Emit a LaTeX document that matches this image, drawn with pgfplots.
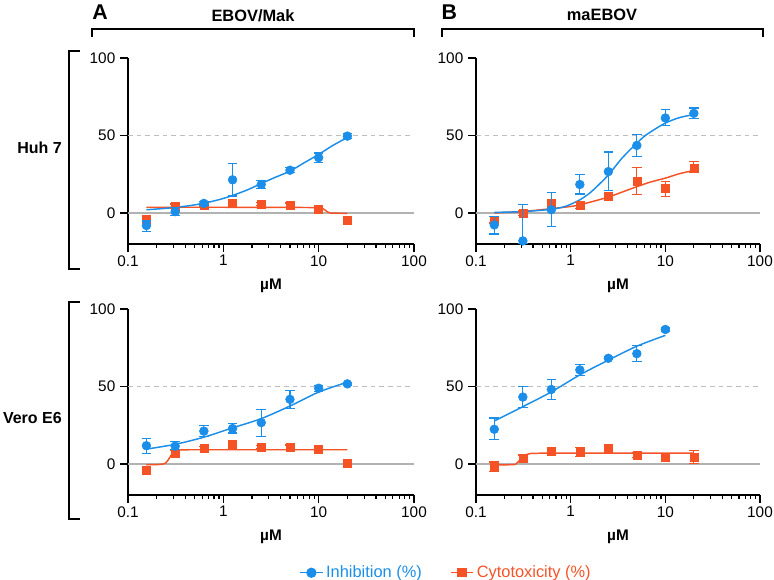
\documentclass[border=0pt]{standalone}
\usepackage{fontspec}
\setmainfont{Liberation Sans}
\usepackage{pgfplots}
\pgfplotsset{compat=1.18}
\definecolor{cblue}{RGB}{26,142,232}
\definecolor{cred}{RGB}{245,82,38}
\definecolor{zgray}{RGB}{178,178,178}
\definecolor{dgray}{RGB}{190,190,190}
\pgfplotsset{
  panel/.style={
    scale only axis, width=214.5pt, height=139.5pt,
    xmin=0.1, xmax=100, ymin=-20, ymax=100,
    axis lines=left, axis line style={-, line width=1.1pt, black},
    xtick={0.1,1,10,100},
    xticklabels={0.1,1,10,100},
    minor xtick={0.2,0.3,0.4,0.5,0.6,0.7,0.8,0.9,2,3,4,5,6,7,8,9,20,30,40,50,60,70,80,90},
    ytick={0,50,100},
    tick align=outside, major tick length=6pt, minor tick length=3pt,
    every tick/.style={black, line width=0.9pt},
    tick label style={font=\fontsize{11.5}{13}\selectfont},
    xticklabel style={yshift=1pt},
    /pgf/number format/assume math mode=true,
    xlabel={µM},
    xlabel style={font=\bfseries\fontsize{11.5}{13}\selectfont, at={(axis description cs:0.5,-0.225)}, anchor=center},
    clip mode=individual,
  },
  bpts/.style={forget plot, only marks, color=cblue, mark=*, mark size=3.3pt,
    error bars/y dir=both, error bars/y explicit,
    error bars/error bar style={line width=0.9pt, cblue},
    error bars/error mark options={line width=0.9pt, cblue, mark size=3.6pt, rotate=90}},
  rpts/.style={forget plot, only marks, color=cred, mark=square*, mark size=3pt,
    error bars/y dir=both, error bars/y explicit,
    error bars/error bar style={line width=0.9pt, cred},
    error bars/error mark options={line width=0.9pt, cred, mark size=3.6pt, rotate=90}},
  bcurve/.style={forget plot, cblue, line width=1.1pt, no marks, smooth},
  rcurve/.style={forget plot, cred, line width=1.1pt, no marks, smooth},
  rstep/.style={forget plot, cred, line width=1.1pt, no marks},
}
\newcommand{\reflines}{%
  \addplot[forget plot, zgray, line width=0.8pt] coordinates {(0.1,0) (100,0)};
  \addplot[forget plot, dgray, line width=0.8pt, dash pattern=on 3.5pt off 3pt] coordinates {(0.1,50) (100,50)};
}
\begin{document}
\begin{tikzpicture}
\path[use as bounding box] (0,0) rectangle (580.5pt,-435pt);
% headers
\node[font=\bfseries\fontsize{16}{18}\selectfont] at (75pt,-9pt) {A};
\node[font=\bfseries\fontsize{12.3}{14}\selectfont] at (189.75pt,-11.5pt) {EBOV/Mak};
\node[font=\bfseries\fontsize{16}{18}\selectfont] at (337pt,-9pt) {B};
\node[font=\bfseries\fontsize{12.3}{14}\selectfont] at (451.5pt,-11.5pt) {maEBOV};
\draw[line width=1.1pt] (69pt,-27.75pt) -- (69pt,-21.75pt) -- (310.5pt,-21.75pt) -- (310.5pt,-27.75pt);
\draw[line width=1.1pt] (331.5pt,-27.75pt) -- (331.5pt,-21.75pt) -- (572.25pt,-21.75pt) -- (572.25pt,-27.75pt);
\draw[line width=1.1pt] (60pt,-38.25pt) -- (51.75pt,-38.25pt) -- (51.75pt,-201.75pt) -- (60pt,-201.75pt);
\draw[line width=1.1pt] (60pt,-226.5pt) -- (51.75pt,-226.5pt) -- (51.75pt,-389.25pt) -- (60pt,-389.25pt);
\node[font=\bfseries\fontsize{12}{14}\selectfont, anchor=east, inner sep=0pt] at (46.5pt,-111pt) {Huh 7};
\node[font=\bfseries\fontsize{12}{14}\selectfont, anchor=east, inner sep=0pt] at (46.5pt,-313.5pt) {Vero E6};

% ---- top-left: EBOV/Mak, Huh 7
\begin{semilogxaxis}[panel, at={(96pt,-183pt)}, anchor=south west]
\reflines
\addplot[rstep] coordinates {(0.156,3.7) (1,3.7) (5,3.6) (10,3.5) (10.8,3.2) (11.5,2.2) (12.3,0.8) (13.2,0) (20,-0.3)};
\addplot[bcurve] coordinates {(0.156,2.1) (0.25,3) (0.3125,3.6) (0.45,4.8) (0.625,6.3) (0.9,8.6) (1.25,11.3) (1.8,15) (2.5,19) (3.5,23) (5,27) (7,32.3) (10,37.8) (14,43.5) (20,48.7)};
\addplot[rpts] table[x=x,y=y,y error plus=ep,y error minus=em] {
x y ep em
0.156 -4.3 2.5 2.5
0.3125 4.3 1.5 1.5
0.625 5 1 1
1.25 6.2 1.5 1.5
2.5 5.8 1 1
5 4.9 1.5 1.5
10 2.6 1 1
20 -4.5 1.5 1.5
};
\addplot[bpts] table[x=x,y=y,y error plus=ep,y error minus=em] {
x y ep em
0.156 -8.1 3 4
0.3125 0.9 2.5 2.5
0.625 6.2 1 1
1.25 21.4 10.4 10.4
2.5 18.4 2.5 2.5
5 27.6 1.5 1.5
10 35.7 3 3
20 49.6 1.5 1.5
};
\end{semilogxaxis}

% ---- top-right: maEBOV, Huh 7
\begin{semilogxaxis}[panel, width=213pt, at={(357pt,-183pt)}, anchor=south west]
\reflines
\addplot[rcurve] coordinates {(0.156,0) (0.3125,1) (0.625,2.8) (1,4.2) (1.25,5.3) (1.8,7.8) (2.5,10.3) (3.5,13.5) (5,17) (7,20) (10,22.5) (14,25.3) (20,27.5)};
\addplot[bcurve] coordinates {(0.156,0.4) (0.3125,0.9) (0.625,2.4) (0.9,4.5) (1.25,8.5) (1.6,13) (2,18.5) (2.5,24.5) (3,30.5) (3.5,35.5) (4.2,40.5) (5,45) (6,49.5) (7.5,53.5) (10,58) (14,61.5) (20,63.5)};
\addplot[rpts] table[x=x,y=y,y error plus=ep,y error minus=em] {
x y ep em
0.156 -4.5 2 2
0.3125 -0.2 1.5 1.5
0.625 6.4 2 2
1.25 4.9 2 2
2.5 11.1 1.5 1.5
5 20.7 8.8 8.7
10 16 4.3 5.1
20 29.1 3.9 3.1
};
\addplot[bpts] table[x=x,y=y,y error plus=ep,y error minus=em] {
x y ep em
0.156 -7.7 5.3 5.8
0.3125 -18 23.5 1.9
0.625 2.1 10.9 10.9
1.25 18.4 6.2 6.2
2.5 26.7 12.6 12.4
5 43.6 7.3 7.1
10 61.3 5.6 5.1
20 64.3 3.4 3.2
};
\end{semilogxaxis}

% ---- bottom-left: EBOV/Mak, Vero E6
\begin{semilogxaxis}[panel, at={(96pt,-371.25pt)}, anchor=south west,
  legend style={at={(axis description cs:0.584,-0.418)}, anchor=west, draw=none, fill=none,
    legend columns=2, font=\fontsize{12.3}{14}\selectfont,
    /tikz/every even column/.append style={column sep=19pt}}]
\reflines
\addplot[rstep] coordinates {(0.156,-0.5) (0.2,-0.4) (0.235,0) (0.25,0.8) (0.264,2.6) (0.278,4.8) (0.29,6.5) (0.305,7.9) (0.323,8.7) (0.36,9.1) (0.45,9.2) (20,9.2)};
\addplot[bcurve] coordinates {(0.156,9.6) (0.3125,12.7) (0.625,17.3) (1.25,23.3) (2.5,29.3) (5,37.4) (10,46.4) (20,52.8)};
\addplot[rpts] table[x=x,y=y,y error plus=ep,y error minus=em] {
x y ep em
0.156 -3.8 2.2 2.2
0.3125 7 1.5 1.5
0.625 10.3 1 1
1.25 12.6 1 1
2.5 10.9 1 1
5 10.7 1.5 1.5
10 9.6 1.2 1.2
20 0.2 1.5 1.5
};
\addplot[bpts] table[x=x,y=y,y error plus=ep,y error minus=em] {
x y ep em
0.156 11.8 4.7 5.2
0.3125 11.5 2.8 1.9
0.625 21.2 3.8 3.7
1.25 22.9 3 2.9
2.5 26.7 8.6 8.7
5 41.7 5.9 6
10 48.9 2 2.1
20 51.7 1 1
};
\addlegendimage{cblue, line width=1.1pt, mark=*, mark size=3.3pt}
\addlegendentry{\textcolor{cblue}{Inhibition (\%)}}
\addlegendimage{cred, line width=1.1pt, mark=square*, mark size=3pt}
\addlegendentry{\textcolor{cred}{Cytotoxicity (\%)}}
\end{semilogxaxis}

% ---- bottom-right: maEBOV, Vero E6
\begin{semilogxaxis}[panel, width=213pt, at={(357pt,-371.25pt)}, anchor=south west]
\reflines
\addplot[rstep] coordinates {(0.156,-0.5) (0.22,-0.5) (0.26,-0.3) (0.275,1) (0.29,2.5) (0.31,4.2) (0.33,5.5) (0.35,6.3) (0.38,6.8) (0.5,7) (20,7)};
\addplot[bcurve] coordinates {(0.156,27.8) (0.3125,37) (0.625,46.5) (1.25,57.5) (2.5,67) (5,76) (10,83)};
\addplot[rpts] table[x=x,y=y,y error plus=ep,y error minus=em] {
x y ep em
0.156 -1.7 3 3
0.3125 3.8 2 2
0.625 8.3 2.5 2.5
1.25 7.7 3 3
2.5 9.6 3 3
5 5.6 1.5 1.5
10 4.5 2.5 2.5
20 4.5 4.3 4.1
};
\addplot[bpts] table[x=x,y=y,y error plus=ep,y error minus=em] {
x y ep em
0.156 22.4 7.3 6.8
0.3125 43.2 7 6.9
0.625 48.1 6.2 6.6
1.25 60.7 3.6 3.7
2.5 68.2 1 1
5 71.2 5.3 5
10 86.8 1 1
};
\end{semilogxaxis}
\end{tikzpicture}
\end{document}
